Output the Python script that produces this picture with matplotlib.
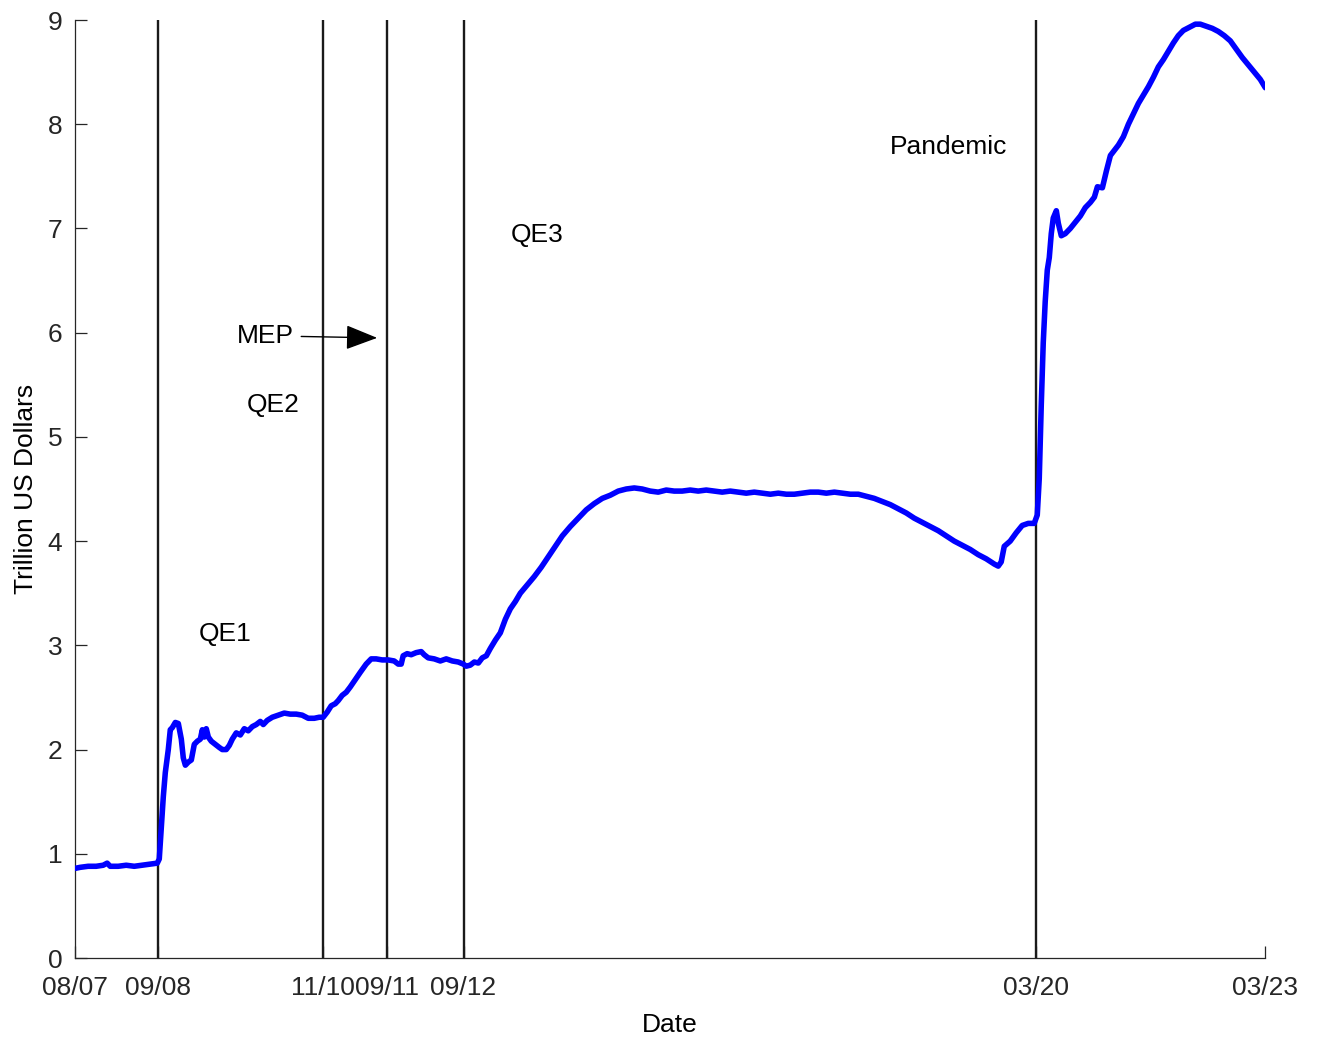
import datetime as dt

import matplotlib
matplotlib.use("Agg")
import matplotlib.dates as mdates
import matplotlib.pyplot as plt

# Federal Reserve total assets, trillion US dollars (dates as decimal years)
years = [
    2007.583, 2007.649, 2007.753, 2007.858, 2007.950, 2008.002, 2008.042, 2008.146,
    2008.251, 2008.356, 2008.460, 2008.565, 2008.657, 2008.683, 2008.709, 2008.736,
    2008.762, 2008.801, 2008.827, 2008.853, 2008.893, 2008.932, 2008.971, 2008.997,
    2009.024, 2009.063, 2009.102, 2009.141, 2009.181, 2009.220, 2009.246, 2009.272,
    2009.298, 2009.325, 2009.364, 2009.416, 2009.469, 2009.508, 2009.560, 2009.600,
    2009.639, 2009.691, 2009.744, 2009.796, 2009.848, 2009.901, 2009.953, 2010.006,
    2010.045, 2010.097, 2010.163, 2010.241, 2010.320, 2010.398, 2010.477, 2010.555,
    2010.634, 2010.713, 2010.778, 2010.830, 2010.883, 2010.935, 2010.988, 2011.027,
    2011.079, 2011.132, 2011.184, 2011.249, 2011.315, 2011.393, 2011.459, 2011.524,
    2011.603, 2011.681, 2011.760, 2011.813, 2011.852, 2011.878, 2011.930, 2011.983,
    2012.048, 2012.114, 2012.153, 2012.205, 2012.284, 2012.363, 2012.441, 2012.520,
    2012.598, 2012.664, 2012.703, 2012.755, 2012.808, 2012.860, 2012.912, 2012.965,
    2013.017, 2013.083, 2013.148, 2013.214, 2013.279, 2013.345, 2013.410, 2013.502,
    2013.593, 2013.685, 2013.777, 2013.868, 2013.960, 2014.065, 2014.169, 2014.274,
    2014.379, 2014.484, 2014.588, 2014.693, 2014.798, 2014.903, 2015.007, 2015.112,
    2015.217, 2015.322, 2015.426, 2015.531, 2015.636, 2015.741, 2015.846, 2015.950,
    2016.055, 2016.160, 2016.265, 2016.369, 2016.474, 2016.579, 2016.684, 2016.788,
    2016.893, 2016.998, 2017.103, 2017.207, 2017.312, 2017.417, 2017.522, 2017.626,
    2017.731, 2017.836, 2017.941, 2018.045, 2018.150, 2018.255, 2018.360, 2018.464,
    2018.569, 2018.674, 2018.779, 2018.883, 2018.988, 2019.093, 2019.198, 2019.302,
    2019.407, 2019.512, 2019.617, 2019.669, 2019.708, 2019.748, 2019.826, 2019.905,
    2019.983, 2020.062, 2020.140, 2020.180, 2020.206, 2020.232, 2020.258, 2020.284,
    2020.311, 2020.337, 2020.363, 2020.389, 2020.429, 2020.455, 2020.494, 2020.546,
    2020.612, 2020.677, 2020.743, 2020.808, 2020.874, 2020.926, 2020.966, 2021.031,
    2021.083, 2021.136, 2021.188, 2021.241, 2021.306, 2021.372, 2021.437, 2021.503,
    2021.568, 2021.634, 2021.699, 2021.764, 2021.830, 2021.895, 2021.961, 2022.026,
    2022.092, 2022.170, 2022.249, 2022.314, 2022.393, 2022.471, 2022.550, 2022.628,
    2022.707, 2022.786, 2022.864, 2022.943, 2023.021, 2023.100, 2023.166,
]

assets = [
    0.86, 0.87, 0.88, 0.88, 0.89, 0.91, 0.88, 0.88,
    0.89, 0.88, 0.89, 0.90, 0.91, 0.95, 1.25, 1.55,
    1.78, 2.00, 2.19, 2.21, 2.26, 2.25, 2.10, 1.92,
    1.85, 1.88, 1.90, 2.05, 2.08, 2.10, 2.19, 2.12,
    2.20, 2.12, 2.08, 2.05, 2.02, 2.00, 2.00, 2.04,
    2.10, 2.16, 2.14, 2.20, 2.18, 2.22, 2.24, 2.27,
    2.24, 2.28, 2.31, 2.33, 2.35, 2.34, 2.34, 2.33,
    2.30, 2.30, 2.31, 2.31, 2.36, 2.42, 2.44, 2.47,
    2.52, 2.55, 2.60, 2.67, 2.74, 2.82, 2.87, 2.87,
    2.86, 2.86, 2.85, 2.82, 2.82, 2.90, 2.92, 2.91,
    2.93, 2.94, 2.91, 2.88, 2.87, 2.85, 2.87, 2.85,
    2.84, 2.82, 2.80, 2.81, 2.84, 2.83, 2.88, 2.90,
    2.97, 3.05, 3.12, 3.25, 3.35, 3.42, 3.50, 3.58,
    3.66, 3.75, 3.85, 3.95, 4.05, 4.14, 4.22, 4.30,
    4.36, 4.41, 4.44, 4.48, 4.50, 4.51, 4.50, 4.48,
    4.47, 4.49, 4.48, 4.48, 4.49, 4.48, 4.49, 4.48,
    4.47, 4.48, 4.47, 4.46, 4.47, 4.46, 4.45, 4.46,
    4.45, 4.45, 4.46, 4.47, 4.47, 4.46, 4.47, 4.46,
    4.45, 4.45, 4.43, 4.41, 4.38, 4.35, 4.31, 4.27,
    4.22, 4.18, 4.14, 4.10, 4.05, 4.00, 3.96, 3.92,
    3.87, 3.83, 3.78, 3.76, 3.80, 3.95, 4.00, 4.08,
    4.15, 4.17, 4.17, 4.25, 4.60, 5.30, 5.90, 6.30,
    6.60, 6.72, 6.95, 7.10, 7.17, 7.05, 6.93, 6.95,
    7.00, 7.06, 7.12, 7.20, 7.25, 7.30, 7.40, 7.39,
    7.55, 7.70, 7.75, 7.80, 7.88, 8.00, 8.10, 8.20,
    8.28, 8.36, 8.45, 8.55, 8.62, 8.70, 8.78, 8.85,
    8.90, 8.93, 8.96, 8.96, 8.94, 8.92, 8.89, 8.85,
    8.80, 8.72, 8.64, 8.57, 8.50, 8.43, 8.35,
]

# Policy event dates marked by vertical lines, and the axis tick dates
event_dates = ["2008-09-01", "2010-11-01", "2011-09-01", "2012-09-01", "2020-03-01"]
tick_dates = ["2007-08-01", "2008-09-01", "2010-11-01", "2011-09-01",
              "2012-09-01", "2020-03-01", "2023-03-01"]
y_ticks = [0, 1, 2, 3, 4, 5, 6, 7, 8, 9]


def from_decimal_year(y):
    year = int(y)
    start = dt.datetime(year, 1, 1)
    end = dt.datetime(year + 1, 1, 1)
    return start + (end - start) * (y - year)


def to_date(s):
    return dt.datetime.strptime(s, "%Y-%m-%d")


dates = [from_decimal_year(y) for y in years]

plt.rcParams["font.family"] = ["Liberation Sans", "DejaVu Sans"]
axis_color = "#262626"

fig = plt.figure(figsize=(13.19, 10.39), dpi=100)
ax = fig.add_axes([75 / 1319, 81 / 1039, 1190 / 1319, 938 / 1039])

ax.plot(dates, assets, color="#0000ff", lw=4.0, solid_joinstyle="round",
        solid_capstyle="round", zorder=3)

for d in event_dates:
    ax.axvline(to_date(d), color="#1a1a1a", lw=1.7, zorder=2)

ax.set_xlim(to_date(tick_dates[0]), to_date(tick_dates[-1]))
ax.set_ylim(0, 9)
ax.set_xticks([to_date(d) for d in tick_dates])
ax.xaxis.set_major_formatter(mdates.DateFormatter("%m/%y"))
ax.set_yticks(y_ticks)

for side in ("top", "right"):
    ax.spines[side].set_visible(False)
for side in ("left", "bottom"):
    ax.spines[side].set_color(axis_color)
    ax.spines[side].set_linewidth(0.9)

ax.tick_params(axis="both", direction="in", length=8.6, width=0.9,
               colors=axis_color, labelsize=19)
ax.tick_params(axis="x", pad=13)
ax.tick_params(axis="y", pad=9)

ax.set_xlabel("Date", fontsize=19, color="black", labelpad=9)
ax.set_ylabel("Trillion US Dollars", fontsize=19, color="black", labelpad=7)

text_kw = dict(fontsize=19, color="black", ha="center", va="center")
ax.text(from_decimal_year(2009.547), 3.11, "QE1", **text_kw)
ax.text(from_decimal_year(2010.176), 5.31, "QE2", **text_kw)
ax.text(from_decimal_year(2013.633), 6.94, "QE3", **text_kw)
ax.text(from_decimal_year(2019.014), 7.78, "Pandemic", **text_kw)

ax.annotate(
    "MEP",
    xy=(from_decimal_year(2011.537), 5.95),
    xytext=(from_decimal_year(2010.451), 5.97),
    fontsize=19, color="black", ha="right", va="center",
    arrowprops=dict(arrowstyle="-|>,head_length=0.9,head_width=0.35",
                    color="black", lw=1.0, shrinkA=3, shrinkB=0,
                    mutation_scale=22),
)

fig.savefig("out.png", dpi=100)
